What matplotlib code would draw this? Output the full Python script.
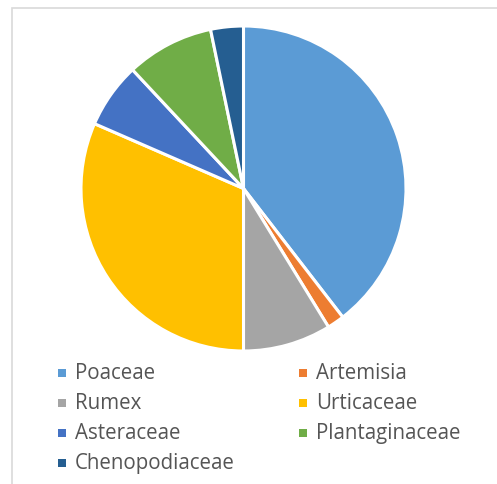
import matplotlib
matplotlib.use("Agg")
import matplotlib.pyplot as plt
from matplotlib.patches import Rectangle

labels = ["Poaceae", "Artemisia", "Rumex", "Urticaceae", "Asteraceae", "Plantaginaceae", "Chenopodiaceae"]
values = [39.5, 1.7, 8.75, 31.5, 6.5, 8.7, 3.25]
colors = ["#5B9BD5", "#ED7D31", "#A5A5A5", "#FFC000", "#4472C4", "#70AD47", "#255E91"]

W, H = 497, 485
fig = plt.figure(figsize=(W / 100, H / 100), dpi=100)
fig.patch.set_facecolor("white")

# chart frame (clipped at right/bottom)
fig.patches.append(Rectangle((12 / W, -0.1), 1.2, (H - 9) / H + 0.1, transform=fig.transFigure,
                             fill=False, edgecolor="#D9D9D9", linewidth=1.2))

cx, cy, r = 243.5, 189.5, 162.5
ax = fig.add_axes([(cx - r) / W, (H - cy - r) / H, 2 * r / W, 2 * r / H])
ax.pie(values, colors=colors, startangle=90, counterclock=False, radius=1,
       wedgeprops=dict(edgecolor="white", linewidth=2.2))
ax.set_xlim(-1, 1)
ax.set_ylim(-1, 1)
ax.set_aspect("equal")
ax.axis("off")

col_x = [62, 303]
row_y = [374, 404, 434, 464]
for i, (lab, col) in enumerate(zip(labels, colors)):
    cxi = col_x[i % 2]
    ryi = row_y[i // 2]
    s = 8.5
    fig.patches.append(Rectangle(((cxi - s / 2) / W, (H - ryi - s / 2) / H), s / W, s / H,
                                 transform=fig.transFigure, facecolor=col, edgecolor="none"))
    fig.text((cxi + 13) / W, (H - ryi) / H, lab, fontsize=14.8, family="Open Sans",
             color="#555555", va="center", ha="left")

fig.savefig("out.png", dpi=100)
